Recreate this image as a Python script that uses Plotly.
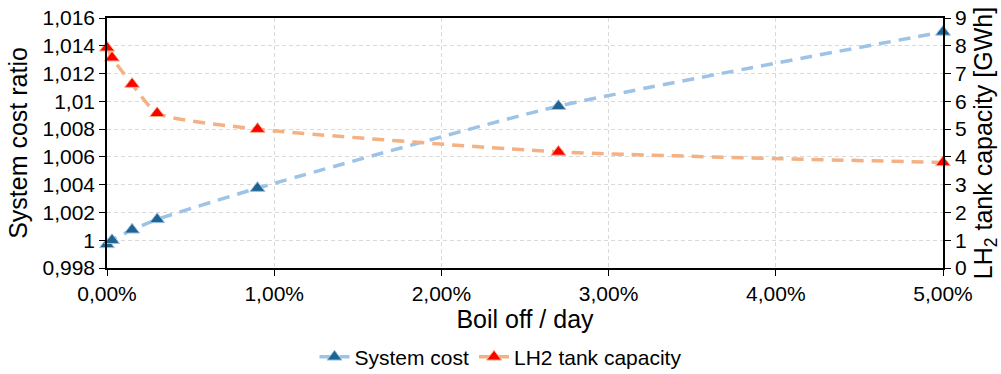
import plotly.graph_objects as go

boil_off = [0.0, 0.0003, 0.0015, 0.003, 0.009, 0.027, 0.05]
system_cost = [0.9997, 1.0000, 1.00075, 1.0015, 1.00375, 1.00965, 1.0150]
lh2_capacity = [7.93, 7.57, 6.62, 5.57, 5.0, 4.18, 3.8]

left_ticks = [0.998, 1.0, 1.002, 1.004, 1.006, 1.008, 1.01, 1.012, 1.014, 1.016]
left_labels = ["0,998", "1", "1,002", "1,004", "1,006", "1,008", "1,01", "1,012", "1,014", "1,016"]
right_ticks = list(range(0, 10))
x_ticks = [0.0, 0.01, 0.02, 0.03, 0.04, 0.05]
x_labels = ["0,00%", "1,00%", "2,00%", "3,00%", "4,00%", "5,00%"]

FONT = "Liberation Sans, Arial, sans-serif"

fig = go.Figure()
fig.add_trace(go.Scatter(
    x=boil_off, y=system_cost, name="System cost", mode="lines+markers",
    line=dict(color="#9DC3E6", width=3.5, dash="12px,8px", shape="spline", smoothing=0.55),
    marker=dict(symbol="triangle-up", size=13, color="#1F6391", line=dict(color="#9DC3E6", width=1)),
    yaxis="y", cliponaxis=False,
))
fig.add_trace(go.Scatter(
    x=boil_off, y=lh2_capacity, name="LH2 tank capacity", mode="lines+markers",
    line=dict(color="#F4B183", width=3.5, dash="12px,8px", shape="spline", smoothing=0.55),
    marker=dict(symbol="triangle-up", size=13, color="#FF0000", line=dict(color="#F4B183", width=1)),
    yaxis="y2", cliponaxis=False,
))

fig.update_layout(
    width=1001, height=374,
    margin=dict(l=107, r=58, t=18, b=106, autoexpand=False),
    paper_bgcolor="white", plot_bgcolor="white",
    font=dict(family=FONT, size=21, color="#000000"),
    separators=",.",
    xaxis=dict(
        range=[0, 0.05], tickvals=x_ticks, ticktext=x_labels,
        showline=True, linecolor="black", linewidth=1.5, mirror=True,
        ticks="outside", ticklen=6, tickcolor="black",
        showgrid=True, gridcolor="#D9D9D9", griddash="4px,3px", gridwidth=1,
        zeroline=False,
        title=dict(text="Boil off / day", standoff=6),
    ),
    yaxis=dict(
        range=[0.998, 1.016], tickvals=left_ticks, ticktext=left_labels,
        showline=True, linecolor="black", linewidth=1.5,
        ticks="outside", ticklen=6, tickcolor="black",
        showgrid=True, gridcolor="#D9D9D9", griddash="4px,3px", gridwidth=1,
        zeroline=False,
        title=dict(text="System cost ratio", standoff=8),
    ),
    yaxis2=dict(
        range=[0, 9], tickvals=right_ticks, overlaying="y", side="right",
        showline=True, linecolor="black", linewidth=1.5,
        ticks="outside", ticklen=6, tickcolor="black",
        showgrid=False, zeroline=False,
        title=dict(text="LH<sub>2</sub> tank capacity [GWh]", standoff=10),
    ),
    legend=dict(
        orientation="h", xref="container", yref="container",
        x=0.5, xanchor="center", y=0.045, yanchor="middle",
        font=dict(size=21), itemwidth=30,
    ),
    showlegend=True,
)

fig.write_html("out.html")
